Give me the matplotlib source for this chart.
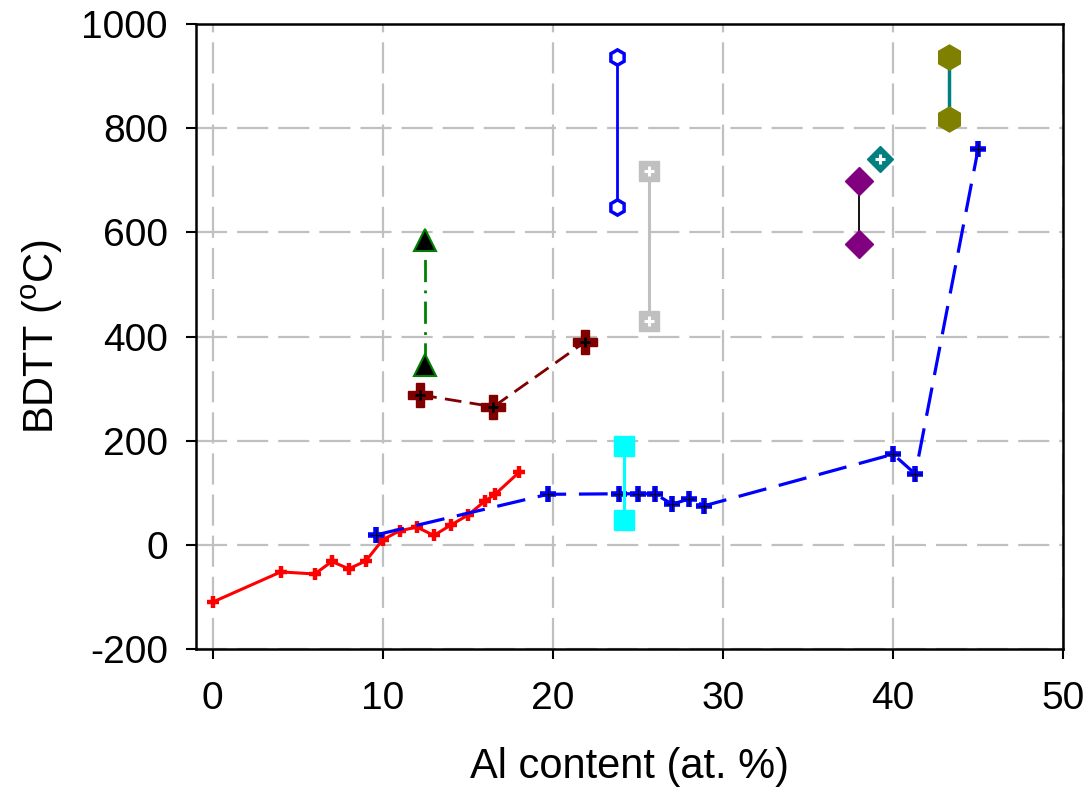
import matplotlib
matplotlib.use('Agg')
import matplotlib.pyplot as plt

plt.rcParams['font.family'] = ['Liberation Sans', 'DejaVu Sans']
plt.rcParams['mathtext.default'] = 'regular'
plt.rcParams['axes.unicode_minus'] = False

# Red series (solid, small plus markers)
red_x = [0, 4, 6, 7, 8, 9, 10, 11, 12, 13, 14, 15, 16, 16.6, 18]
red_y = [-110, -52, -56, -32, -46, -31, 10, 27, 34, 18, 38, 57, 84, 97, 139]

# Blue dashed series (plus markers)
blue_x = [9.6, 19.7, 23.9, 25.0, 26.0, 27.0, 28.0, 28.9, 40.0, 41.3, 45.0]
blue_y = [19, 97, 98, 98, 98, 78, 88, 75, 174, 136, 761]

# Maroon dashed series
maroon_x = [12.2, 16.5, 21.9]
maroon_y = [288, 265, 390]

# Vertical pairs (ranges)
green_x = [12.5, 12.5]
green_y = [345, 585]
hexblue_x = [23.75, 23.75]
hexblue_y = [649, 936]
gray_x = [25.65, 25.65]
gray_y = [430, 718]
cyan_x = [24.15, 24.15]
cyan_y = [48, 190]
purple_x = [38, 38]
purple_y = [577, 698]
teal_x = [39.2]
teal_y = [741]
olive_x = [43.3, 43.3]
olive_y = [817, 937]

x_ticks = [0, 10, 20, 30, 40, 50]
y_ticks = [-200, 0, 200, 400, 600, 800, 1000]

fig = plt.figure(figsize=(10.89, 7.96), dpi=100)
ax = fig.add_axes([0.1797, 0.1847, 0.7967, 0.7851])

# grid
for gx in x_ticks:
    ax.axvline(gx, color='#c0c0c0', lw=1.6, dashes=(14, 4.5), zorder=0)
for gy in y_ticks:
    ax.axhline(gy, color='#c0c0c0', lw=1.6, dashes=(14, 4.5), zorder=0)

# red
ax.plot(red_x, red_y, color='red', lw=2.2, marker='+', ms=8, mew=3.2, zorder=3)

# blue dashed
ax.plot(blue_x, blue_y, color='#0000ff', lw=2.3, dashes=(9, 4), marker='+',
        ms=11, mew=4, zorder=4)
ax.plot(blue_x, blue_y, ls='none', marker='+', ms=8, mew=0.8, color='black', zorder=5)

# maroon dashed
ax.plot(maroon_x, maroon_y, color='#800000', lw=2, dashes=(6, 3), zorder=3)
ax.plot(maroon_x, maroon_y, ls='none', marker='P', ms=17, color='#800000', zorder=4)
ax.plot(maroon_x, maroon_y, ls='none', marker='+', ms=7, mew=2, color='black', zorder=5)

# green dash-dot with triangles
ax.plot(green_x, green_y, color='#008000', lw=2, dashes=(8, 3, 1, 3), zorder=3)
ax.plot(green_x, green_y, ls='none', marker='^', ms=16, mfc='black', mec='#008000',
        mew=1.5, zorder=4)

# blue open hexagons
ax.plot(hexblue_x, hexblue_y, color='#0000ff', lw=2, marker='h', ms=11, mfc='white',
        mec='#0000ff', mew=2.5, zorder=4)

# gray squares with white plus
ax.plot(gray_x, gray_y, color='#c0c0c0', lw=2.2, marker='s', ms=15, zorder=4)
ax.plot(gray_x, gray_y, ls='none', marker='+', ms=7, mew=2.2, color='white', zorder=5)

# cyan squares
ax.plot(cyan_x, cyan_y, color='cyan', lw=2.2, marker='s', ms=15, zorder=6)

# purple diamonds
ax.plot(purple_x, purple_y, color='black', lw=1.3, zorder=3)
ax.plot(purple_x, purple_y, ls='none', marker='D', ms=14, color='#800080', zorder=4)

# teal diamond with white plus
ax.plot(teal_x, teal_y, ls='none', marker='D', ms=13, color='#008080', zorder=4)
ax.plot(teal_x, teal_y, ls='none', marker='+', ms=7, mew=2.2, color='white', zorder=5)

# olive hexagons
ax.plot(olive_x, olive_y, color='#008080', lw=2.5, zorder=3)
ax.plot(olive_x, olive_y, ls='none', marker='h', ms=18, color='#808000', zorder=4)

ax.set_xlim(-1, 50)
ax.set_ylim(-200, 1000)
ax.set_xticks(x_ticks)
ax.set_yticks(y_ticks)
ax.tick_params(direction='out', length=7, width=1.5, labelsize=28)
ax.tick_params(axis='x', pad=16)
ax.tick_params(axis='y', pad=13)
for s in ax.spines.values():
    s.set_linewidth(1.8)
    s.set_zorder(7)

ax.set_xlabel('Al content (at. %)', fontsize=30, labelpad=22)
ax.set_ylabel('BDTT ($^{o}$C)', fontsize=30, labelpad=12)

fig.savefig('out.png', dpi=100)
